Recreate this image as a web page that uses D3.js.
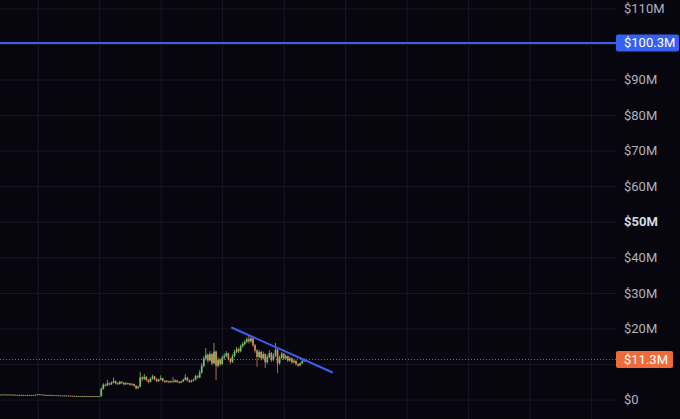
<!DOCTYPE html>
<html>
<head>
<meta charset="utf-8">
<script src="https://cdn.jsdelivr.net/npm/d3@7/dist/d3.min.js"></script>
<style>
  html, body { margin: 0; padding: 0; background: #07060f; overflow: hidden; }
  svg { display: block; }
</style>
</head>
<body>
<svg id="chart" width="680" height="419"></svg>
<script>
// ---------------- DATA (values in $M) ----------------
const open = [
  1.38,1.40,1.42,1.38,1.40,1.36,1.38,1.35,1.33,1.30,1.32,1.28,1.30,1.26,1.28,1.25,1.27,1.30,1.35,1.48,
  1.40,1.36,1.32,1.30,1.28,1.30,1.26,1.22,1.20,1.18,1.15,1.12,1.10,1.12,1.08,1.05,1.02,1.00,0.95,0.98,
  0.95,0.98,0.96,0.94,0.96,0.93,0.95,0.92,0.94,
  0.92,3.0,4.2,4.0,4.6,4.3,4.8,5.2,4.6,4.4,5.0,4.7,4.3,4.6,4.5,4.2,4.4,3.9,3.2,3.6,
  6.2,5.8,6.4,5.5,5.0,5.9,6.5,5.8,5.2,5.6,6.0,5.3,5.0,5.2,4.9,5.1,5.0,5.4,5.0,4.8,
  5.1,5.6,6.2,5.4,5.0,5.3,5.6,6.6,6.2,7.6,9.5,11.5,12.6,11.0,12.8,10.2,13.5,9.5,11.2,10.0,
  11.8,12.3,13.0,11.5,10.6,12.2,13.4,14.2,13.6,15.0,15.6,16.3,17.0,16.4,17.2,15.3,13.8,12.0,13.4,11.6,
  12.8,10.5,12.0,13.1,11.2,12.4,14.0,10.2,11.8,12.9,11.6,12.2,11.0,11.6,10.5,10.9,10.0,9.6,10.2,10.8
];
const close = [
  1.40,1.42,1.38,1.40,1.36,1.38,1.35,1.33,1.30,1.32,1.28,1.30,1.26,1.28,1.25,1.27,1.30,1.35,1.48,1.40,
  1.36,1.32,1.30,1.28,1.30,1.26,1.22,1.20,1.18,1.15,1.12,1.10,1.12,1.08,1.05,1.02,1.00,0.95,0.98,0.95,
  0.98,0.96,0.94,0.96,0.93,0.95,0.92,0.94,0.92,
  3.0,4.2,4.0,4.6,4.3,4.8,5.2,4.6,4.4,5.0,4.7,4.3,4.6,4.5,4.2,4.4,3.9,3.2,3.6,6.2,
  5.8,6.4,5.5,5.0,5.9,6.5,5.8,5.2,5.6,6.0,5.3,5.0,5.2,4.9,5.1,5.0,5.4,5.0,4.8,5.1,
  5.6,6.2,5.4,5.0,5.3,5.6,6.6,6.2,7.6,9.5,11.5,12.6,11.0,12.8,10.2,13.5,9.5,11.2,10.0,11.8,
  12.3,13.0,11.5,10.6,12.2,13.4,14.2,13.6,15.0,15.6,16.3,17.0,16.4,17.2,15.3,13.8,12.0,13.4,11.6,12.8,
  10.5,12.0,13.1,11.2,12.4,14.0,10.2,11.8,12.9,11.6,12.2,11.0,11.6,10.5,10.9,10.0,9.6,10.2,10.8,11.3
];
const high = [
  1.46,1.48,1.48,1.46,1.46,1.44,1.44,1.41,1.39,1.38,1.38,1.36,1.36,1.34,1.34,1.33,1.36,1.41,1.54,1.54,
  1.46,1.42,1.38,1.36,1.36,1.36,1.32,1.28,1.26,1.24,1.21,1.18,1.18,1.18,1.14,1.11,1.08,1.06,1.04,1.04,
  1.04,1.04,1.02,1.02,1.02,1.01,1.01,1.00,1.00,
  3.4,4.6,4.5,5.5,4.8,5.1,6.2,5.4,4.9,5.3,5.2,4.9,4.9,4.8,4.7,4.7,4.5,4.0,3.9,7.8,
  6.6,7.2,6.6,5.8,6.2,7.0,6.7,6.0,5.9,6.8,6.1,5.5,5.5,5.3,5.4,6.3,5.7,5.5,5.2,5.3,
  5.9,7.2,6.4,5.6,5.6,5.9,7.0,6.9,8.3,10.2,12.2,14.5,13.0,13.6,13.1,15.9,13.8,11.9,11.6,12.4,
  13.0,13.6,13.2,11.8,12.8,14.0,14.8,14.6,15.5,16.2,16.8,17.5,17.9,17.6,17.4,15.6,14.2,14.0,13.7,13.5,
  13.0,12.6,13.9,13.4,13.0,15.9,14.3,12.4,13.4,13.1,12.7,12.4,12.1,11.8,11.3,11.1,10.2,10.5,11.1,11.6
];
const low = [
  1.32,1.34,1.32,1.32,1.30,1.30,1.29,1.27,1.24,1.24,1.22,1.22,1.20,1.20,1.19,1.19,1.21,1.24,1.29,1.34,
  1.30,1.26,1.24,1.22,1.22,1.20,1.16,1.14,1.12,1.09,1.06,1.04,1.04,1.02,0.99,0.96,0.94,0.89,0.89,0.89,
  0.89,0.90,0.88,0.88,0.87,0.87,0.86,0.86,0.86,
  0.88,2.8,3.6,3.8,4.0,4.1,4.6,4.3,4.1,4.2,4.4,4.0,4.1,4.2,3.9,4.0,3.6,2.8,3.0,3.5,
  5.2,5.5,5.1,4.6,4.8,5.6,5.4,4.9,5.0,5.4,5.0,4.7,4.8,4.6,4.7,4.8,4.8,4.7,4.5,4.6,
  4.9,5.4,5.1,4.7,4.8,5.1,5.4,5.9,6.0,7.3,9.2,11.0,10.4,10.7,9.6,10.0,5.5,9.0,9.4,9.7,
  11.2,11.9,11.0,10.0,10.3,11.9,13.0,13.1,13.3,14.6,15.2,15.9,15.8,16.0,14.8,13.2,9.2,11.6,11.0,11.2,
  8.9,10.1,11.6,10.6,10.8,12.0,7.5,9.8,11.4,11.1,11.2,10.6,10.7,10.1,10.2,9.6,9.2,9.4,10.0,10.6
];

const yTicks = [0, 10, 20, 30, 40, 50, 60, 70, 80, 90, 100, 110];
const yTickLabels = ["$0", "", "$20M", "$30M", "$40M", "$50M", "$60M", "$70M", "$80M", "$90M", "", "$110M"];
const xGridIdx = [18, 48, 78, 108, 138, 168, 198, 228, 258, 288];

const levelValue = [100.3];
const levelLabel = ["$100.3M"];
const lastValue = [11.3];
const lastLabel = ["$11.3M"];
const trendIdx = [112.8, 161.6];
const trendVal = [20.2, 7.7];

// ---------------- DRAW ----------------
const W = 680, H = 419, plotRight = 616;
const svg = d3.select("#chart");
svg.append("rect").attr("width", W).attr("height", H).attr("fill", "#07060f");

const x = d3.scaleLinear().domain([-0.4, 300.1]).range([0, plotRight]);
const y = d3.scaleLinear().domain([0, 110]).range([399.6, 8.4]);

const gridColor = "#181722";

// vertical grid
svg.append("g")
  .attr("transform", `translate(0,${H})`)
  .call(d3.axisBottom(x).tickValues(xGridIdx).tickSize(-H).tickFormat(""))
  .call(g => g.select(".domain").remove())
  .call(g => g.selectAll("line").attr("stroke", gridColor).attr("stroke-width", 1));

// horizontal grid
svg.append("g")
  .call(d3.axisLeft(y).tickValues(yTicks).tickSize(-plotRight).tickFormat(""))
  .call(g => g.select(".domain").remove())
  .call(g => g.selectAll("line").attr("stroke", gridColor).attr("stroke-width", 1));

// y-axis labels
const font = "Roboto, 'Noto Sans', sans-serif";
svg.append("g")
  .attr("transform", `translate(${plotRight},0)`)
  .call(d3.axisRight(y).tickValues(yTicks).tickSize(0).tickPadding(8)
    .tickFormat((d, i) => yTickLabels[i]))
  .call(g => g.select(".domain").remove())
  .call(g => g.selectAll("text")
    .attr("fill", d => d === 50 ? "#d8dae2" : "#b0b3bc")
    .attr("font-weight", d => d === 50 ? 700 : 400)
    .attr("font-family", font)
    .attr("font-size", 13));

// last price dotted line
const lastY = Math.round(y(lastValue[0])) + 0.5;
svg.append("line")
  .attr("x1", 0).attr("x2", plotRight)
  .attr("y1", lastY).attr("y2", lastY)
  .attr("stroke", "#c25a36").attr("stroke-width", 1)
  .attr("stroke-dasharray", "1,2");

// candles
const idx = d3.range(close.length);
const up = "#72c473", down = "#df8852";
const candles = svg.append("g");
candles.selectAll("line.wick").data(idx).join("line")
  .attr("class", "wick")
  .attr("x1", i => x(i)).attr("x2", i => x(i))
  .attr("y1", i => y(high[i])).attr("y2", i => y(low[i]))
  .attr("stroke", i => close[i] >= open[i] ? up : down)
  .attr("stroke-width", 0.8);
candles.selectAll("rect.body").data(idx).join("rect")
  .attr("class", "body")
  .attr("x", i => x(i) - 0.85)
  .attr("width", 1.7)
  .attr("y", i => y(Math.max(open[i], close[i])))
  .attr("height", i => Math.max(0.8, Math.abs(y(open[i]) - y(close[i]))))
  .attr("fill", i => close[i] >= open[i] ? up : down);

// horizontal level line
const blue = "#3a5ff2";
svg.append("line")
  .attr("x1", 0).attr("x2", plotRight)
  .attr("y1", y(levelValue[0])).attr("y2", y(levelValue[0]))
  .attr("stroke", blue).attr("stroke-width", 2);

// trend line
svg.append("line")
  .attr("x1", x(trendIdx[0])).attr("y1", y(trendVal[0]))
  .attr("x2", x(trendIdx[1])).attr("y2", y(trendVal[1]))
  .attr("stroke", blue).attr("stroke-width", 2).attr("stroke-linecap", "round");

// price tags
function tag(val, label, color, w) {
  const cy = y(val);
  svg.append("rect")
    .attr("x", plotRight).attr("y", cy - 8.5)
    .attr("width", w).attr("height", 17).attr("rx", 2)
    .attr("fill", color);
  svg.append("text")
    .attr("x", plotRight + 8).attr("y", cy)
    .attr("dy", "0.35em")
    .attr("fill", "#ffffff")
    .attr("font-family", font).attr("font-size", 13)
    .text(label);
}
tag(levelValue[0], levelLabel[0], "#3461f0", 63);
tag(lastValue[0], lastLabel[0], "#ee6b3b", 57);
</script>
</body>
</html>
